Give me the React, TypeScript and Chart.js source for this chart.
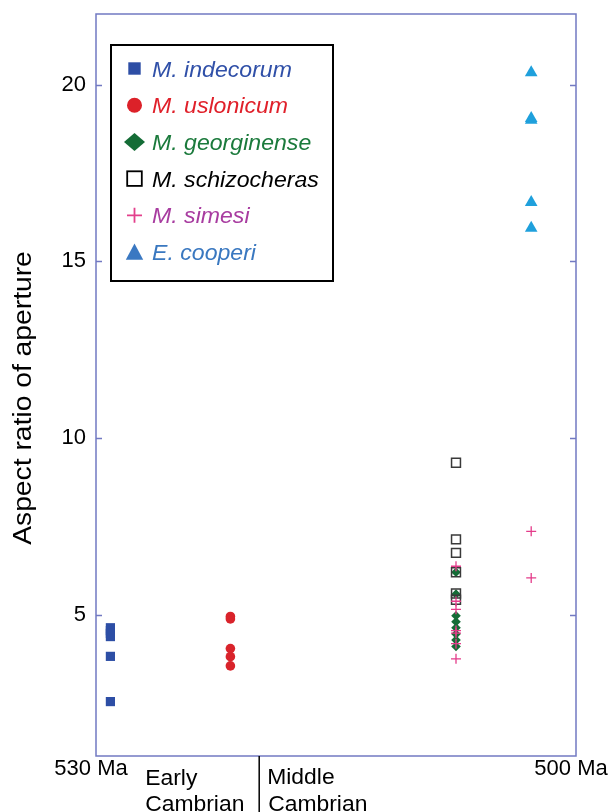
import React, { useEffect, useRef } from 'react';
import { Chart, registerables } from 'chart.js';

Chart.register(...registerables);

// ---- data ----
const speciesNames = ['M. indecorum', 'M. uslonicum', 'M. georginense', 'M. schizocheras', 'M. simesi', 'E. cooperi'];

const indecorumAge = [529.1, 529.1, 529.1, 529.1, 529.1, 529.1];
const indecorumRatio = [4.63, 4.55, 4.47, 4.38, 3.82, 2.54];

const uslonicumAge = [521.6, 521.6, 521.6, 521.6, 521.6];
const uslonicumRatio = [4.95, 4.88, 4.04, 3.81, 3.55];

const georginenseAge = [507.5, 507.5, 507.5, 507.5, 507.5, 507.5, 507.5, 507.5];
const georginenseRatio = [6.2, 5.58, 4.97, 4.8, 4.63, 4.45, 4.28, 4.1];

const schizocherasAge = [507.5, 507.5, 507.5, 507.5, 507.5, 507.5];
const schizocherasRatio = [9.3, 7.13, 6.75, 6.2, 5.6, 5.42];

const simesiAge = [507.5, 507.5, 507.5, 507.5, 507.5, 507.5, 507.5, 502.8, 502.8];
const simesiRatio = [6.37, 5.38, 5.15, 4.55, 4.48, 4.18, 3.75, 7.36, 6.04];

const cooperiAge = [502.8, 502.8, 502.8, 502.8, 502.8];
const cooperiRatio = [20.34, 19.05, 19.0, 16.67, 15.94];

const xTickValues = [530, 500];
const yTickValues = [5, 10, 15, 20];
const yMin = 1;
const yMax = 22;
const xOld = 530;
const xYoung = 500;
const boundaryAge = 519.8;
const periodLabels = [['Early', 'Cambrian'], ['Middle', 'Cambrian']];
const yTitle = 'Aspect ratio of aperture';

// ---- styles ----
const FONT = '"Liberation Sans", Arial, Helvetica, sans-serif';
const FRAME = '#7279c2';

const pts = (xs: number[], ys: number[]) => xs.map((x, i) => ({ x, y: ys[i] }));

const legendStyles = [
  { kind: 'square', color: '#2d4ea5', text: '#3050a8' },
  { kind: 'circle', color: '#dc2129', text: '#e0202a' },
  { kind: 'diamond', color: '#146c36', text: '#1b7a3c' },
  { kind: 'open', color: '#000000', text: '#000000' },
  { kind: 'cross', color: '#e3408c', text: '#a83ca0' },
  { kind: 'triangle', color: '#3a78c2', text: '#3a78c0' },
];

function drawLegendMarker(ctx: CanvasRenderingContext2D, kind: string, color: string, x: number, y: number) {
  ctx.save();
  ctx.fillStyle = color;
  ctx.strokeStyle = color;
  ctx.beginPath();
  switch (kind) {
    case 'square':
      ctx.fillRect(x - 6.2, y - 6.2, 12.4, 12.4);
      break;
    case 'circle':
      ctx.arc(x, y, 7.5, 0, Math.PI * 2);
      ctx.fill();
      break;
    case 'diamond':
      ctx.moveTo(x - 10.5, y);
      ctx.lineTo(x, y - 9);
      ctx.lineTo(x + 10.5, y);
      ctx.lineTo(x, y + 9);
      ctx.closePath();
      ctx.fill();
      break;
    case 'open':
      ctx.lineWidth = 1.8;
      ctx.strokeRect(x - 7.3, y - 7.3, 14.6, 14.6);
      break;
    case 'cross':
      ctx.lineWidth = 1.8;
      ctx.moveTo(x - 7.5, y);
      ctx.lineTo(x + 7.5, y);
      ctx.moveTo(x, y - 7.5);
      ctx.lineTo(x, y + 7.5);
      ctx.stroke();
      break;
    case 'triangle':
      ctx.moveTo(x, y - 8.5);
      ctx.lineTo(x + 8.7, y + 7.8);
      ctx.lineTo(x - 8.7, y + 7.8);
      ctx.closePath();
      ctx.fill();
      break;
  }
  ctx.restore();
}

function stretchedText(ctx: CanvasRenderingContext2D, text: string, x: number, y: number, sx: number) {
  ctx.save();
  ctx.translate(x, y);
  ctx.scale(sx, 1);
  ctx.fillText(text, 0, 0);
  ctx.restore();
}

const decorPlugin = {
  id: 'decor',
  beforeDatasetsDraw(chart: any) {
    const { ctx, chartArea: a, scales } = chart;
    const ys = scales.y;
    ctx.save();
    ctx.strokeStyle = FRAME;
    ctx.lineWidth = 1.5;
    ctx.strokeRect(a.left, a.top, a.right - a.left, a.bottom - a.top);
    ctx.lineWidth = 1.3;
    ctx.beginPath();
    for (const v of yTickValues) {
      const py = Math.round(ys.getPixelForValue(v)) + 0.5;
      ctx.moveTo(a.left, py);
      ctx.lineTo(a.left + 6, py);
      ctx.moveTo(a.right - 6, py);
      ctx.lineTo(a.right, py);
    }
    ctx.stroke();
    ctx.restore();
  },
  afterDraw(chart: any) {
    const { ctx, chartArea: a, scales } = chart;
    const xs = scales.x;
    ctx.save();

    // period boundary
    const bx = xs.getPixelForValue(boundaryAge);
    ctx.strokeStyle = '#000';
    ctx.lineWidth = 1.5;
    ctx.beginPath();
    ctx.moveTo(bx, a.bottom);
    ctx.lineTo(bx, chart.height);
    ctx.stroke();

    ctx.fillStyle = '#000';
    ctx.font = `22px ${FONT}`;
    ctx.textAlign = 'left';
    ctx.textBaseline = 'alphabetic';
    stretchedText(ctx, periodLabels[0][0], bx - 114, a.bottom + 29, 1.04);
    stretchedText(ctx, periodLabels[0][1], bx - 114, a.bottom + 55, 1.04);
    stretchedText(ctx, periodLabels[1][0], bx + 8, a.bottom + 28, 1.04);
    stretchedText(ctx, periodLabels[1][1], bx + 9, a.bottom + 55, 1.04);

    // y title
    ctx.save();
    ctx.translate(31, 398);
    ctx.rotate(-Math.PI / 2);
    ctx.scale(1.13, 1);
    ctx.font = `25px ${FONT}`;
    ctx.textAlign = 'center';
    ctx.fillText(yTitle, 0, 0);
    ctx.restore();

    // legend
    const lx = a.left + 15;
    const ly = a.top + 31;
    const lw = 222;
    const lh = 236;
    ctx.fillStyle = '#fff';
    ctx.fillRect(lx, ly, lw, lh);
    ctx.strokeStyle = '#000';
    ctx.lineWidth = 2;
    ctx.strokeRect(lx, ly, lw, lh);
    ctx.font = `italic 22px ${FONT}`;
    ctx.textAlign = 'left';
    speciesNames.forEach((name, i) => {
      const st = legendStyles[i];
      const cy = ly + 23.5 + i * 36.7;
      drawLegendMarker(ctx, st.kind, st.color, lx + 23.5, cy);
      ctx.fillStyle = st.text;
      stretchedText(ctx, name, lx + 41, cy + 8, 1.05);
    });
    ctx.restore();
  },
};

export default function App() {
  const ref = useRef<HTMLCanvasElement>(null);

  useEffect(() => {
    if (!ref.current) return;
    const tickFont = { family: FONT, size: 22 };
    const chart = new Chart(ref.current, {
      type: 'scatter',
      data: {
        datasets: [
          {
            label: speciesNames[0],
            data: pts(indecorumAge, indecorumRatio),
            pointStyle: 'rect',
            pointRadius: 6.5,
            backgroundColor: '#2d4ea5',
            borderWidth: 0,
            order: 5,
          },
          {
            label: speciesNames[1],
            data: pts(uslonicumAge, uslonicumRatio),
            pointStyle: 'circle',
            pointRadius: 4.8,
            backgroundColor: '#d9232b',
            borderWidth: 0,
            order: 4,
          },
          {
            label: speciesNames[2],
            data: pts(georginenseAge, georginenseRatio),
            pointStyle: 'rectRot',
            pointRadius: 4.8,
            backgroundColor: '#146c36',
            borderWidth: 0,
            order: 3,
          },
          {
            label: speciesNames[3],
            data: pts(schizocherasAge, schizocherasRatio),
            pointStyle: 'rect',
            pointRadius: 6.3,
            backgroundColor: 'rgba(0,0,0,0)',
            borderColor: '#3a3a3a',
            borderWidth: 1.5,
            order: 2,
          },
          {
            label: speciesNames[4],
            data: pts(simesiAge, simesiRatio),
            pointStyle: 'cross',
            pointRadius: 5,
            backgroundColor: '#e43c8a',
            borderColor: '#e43c8a',
            borderWidth: 1.3,
            order: 1,
          },
          {
            label: speciesNames[5],
            data: pts(cooperiAge, cooperiRatio),
            pointStyle: 'triangle',
            pointRadius: 7.3,
            backgroundColor: '#1fa0dc',
            borderWidth: 0,
            order: 0,
          },
        ] as any,
      },
      options: {
        animation: false,
        responsive: false,
        devicePixelRatio: 1,
        layout: { padding: { left: 0, right: 37, top: 14, bottom: 0 } },
        plugins: {
          legend: { display: false },
          tooltip: { enabled: false },
          title: { display: false },
        },
        scales: {
          x: {
            type: 'linear',
            reverse: true,
            min: xYoung,
            max: xOld,
            afterBuildTicks: (s: any) => {
              s.ticks = xTickValues.map((v) => ({ value: v }));
            },
            afterFit: (s: any) => {
              s.height = 56;
              s.paddingLeft = 0;
              s.paddingRight = 0;
              s.paddingTop = 0;
              s.paddingBottom = 0;
            },
            grid: { display: false, drawTicks: false },
            border: { display: false },
            ticks: {
              autoSkip: false,
              maxRotation: 0,
              minRotation: 0,
              padding: 0,
              labelOffset: -5,
              color: '#000',
              font: tickFont,
              callback: (v: any) => `${v} Ma`,
            },
          },
          y: {
            type: 'linear',
            min: yMin,
            max: yMax,
            afterBuildTicks: (s: any) => {
              s.ticks = yTickValues.map((v) => ({ value: v }));
            },
            afterFit: (s: any) => {
              s.width = 96;
              s.paddingLeft = 0;
              s.paddingRight = 0;
              s.paddingTop = 0;
              s.paddingBottom = 0;
            },
            grid: { display: false, drawTicks: false },
            border: { display: false },
            ticks: {
              padding: 10,
              color: '#000',
              font: tickFont,
              callback: (v: any) => `${v}`,
            },
          },
        },
      } as any,
      plugins: [decorPlugin],
    });
    return () => chart.destroy();
  }, []);

  return (
    <div style={{ position: 'absolute', left: 0, top: 0, width: 613, height: 812, background: '#fff' }}>
      <canvas ref={ref} width={613} height={812} style={{ display: 'block', width: 613, height: 812 }} />
    </div>
  );
}
